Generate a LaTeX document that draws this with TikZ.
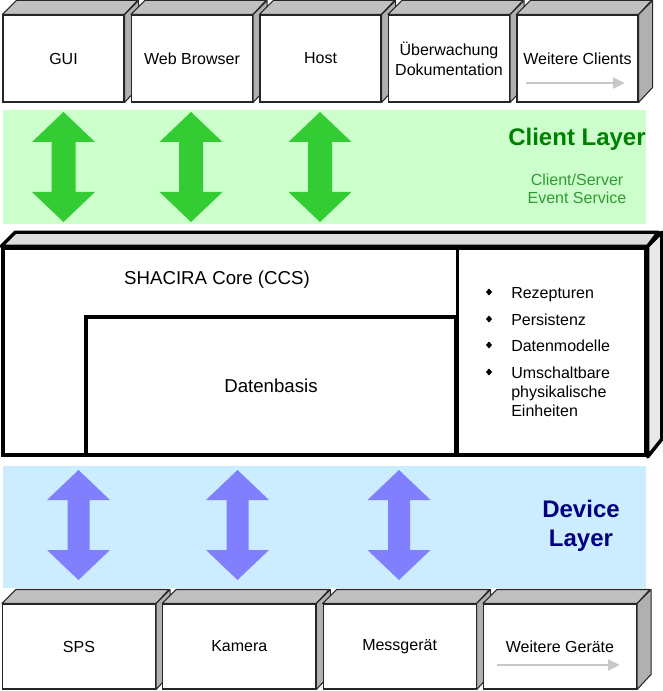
\documentclass[tikz,border=0pt]{standalone}
\usepackage{fontspec}
\setmainfont{Liberation Sans}
\usetikzlibrary{calc,arrows.meta}

\definecolor{bandgreen}{RGB}{204,255,204}
\definecolor{arrowgreen}{RGB}{51,204,51}
\definecolor{titlegreen}{RGB}{0,128,0}
\definecolor{subgreen}{RGB}{51,153,51}
\definecolor{bandblue}{RGB}{204,236,255}
\definecolor{arrowblue}{RGB}{128,128,255}
\definecolor{titleblue}{RGB}{0,0,128}
\definecolor{boxtop}{RGB}{192,192,192}
\definecolor{boxside}{RGB}{176,176,176}
\definecolor{coretop}{RGB}{221,221,221}
\definecolor{coreside}{RGB}{232,232,232}
\definecolor{moregray}{RGB}{200,200,200}

\begin{document}
\begin{tikzpicture}[x=0.75pt,y=0.75pt,yscale=-1,xscale=1,
    frontbox/.style={draw=black!85, line width=0.8pt, fill=white, align=center, inner sep=0pt, font=\fontsize{12}{15}\selectfont},
    clientbox/.style={frontbox, minimum width=90.75pt, minimum height=65.25pt},
    devicebox/.style={frontbox, minimum width=114.75pt, minimum height=63.75pt},
    topface/.style={draw=black!85, line width=0.8pt, fill=boxtop, line join=round},
    sideface/.style={draw=black!85, line width=0.8pt, fill=boxside, line join=round},
    corepart/.style={draw=black, line width=2.6pt, fill=white, inner sep=0pt},
    coreface/.style={draw=black, line width=2.6pt, line join=round},
    listitem/.style={anchor=base west, inner sep=0pt, align=left, font=\fontsize{12}{14.25}\selectfont},
    layertitle/.style={align=center, font=\fontsize{18}{21.75}\selectfont\bfseries},
    morearrow/.style={draw=moregray, line width=2.2pt, -{Triangle[length=9pt,width=8pt]}}
  ]
\useasboundingbox (0,0) rectangle (662,691);

%Layer bands
\fill[bandgreen] (3,110) rectangle (646,224);
\fill[bandblue] (3,466) rectangle (646,588);

%Client boxes
\foreach \n/\x/\t in {gui/63.5/GUI, web/192/Web Browser, host/320.5/Host, ueberw/449/{Überwachung\\Dokumentation}, wclients/577.5/Weitere Clients}{
  \node[clientbox] (\n) at (\x,58.5) {\t};
  \draw[topface] (\n.north west) -- ++(14,-14) -- ++(121,0) -- (\n.north east) -- cycle;
  \draw[sideface] (\n.north east) -- ++(14,-14) -- ++(0,87) -- (\n.south east) -- cycle;
}
\draw[morearrow] ($(wclients.center)+(-51.5,24.5)$) -- ++(99,0);

%Client layer arrows
\foreach \x in {63.5,191,320}
  \fill[arrowgreen] (\x,112) -- (\x+31.5,142) -- (\x+12,142) -- (\x+12,192) -- (\x+31.5,192) -- (\x,222) -- (\x-31.5,192) -- (\x-12,192) -- (\x-12,142) -- (\x-31.5,142) -- cycle;
\node[layertitle, text=titlegreen] (clayer) at (577,139) {Client Layer};
\node[align=center, text=subgreen, font=\fontsize{12}{13.5}\selectfont] (cservice) at (577,189) {Client/Server\\Event Service};

%Core
\node[corepart, minimum width=482.25pt, minimum height=155.25pt] (core) at (324.5,351.5) {};
\draw[coreface, fill=coretop] (core.north west) -- ++(14,-14) -- ++(643,0) -- (core.north east) -- cycle;
\draw[coreface, fill=coreside] (core.north east) -- ++(14,-14) -- ++(0,207) -- (core.south east) -- cycle;
\node[corepart, minimum width=277.5pt, minimum height=103.5pt, font=\fontsize{14}{17}\selectfont] (dbasis) at (271,386) {Datenbasis};
\draw[coreface] (dbasis.north east |- core.north) -- (dbasis.south east);
\node[font=\fontsize{14}{17}\selectfont] (shacira) at (217,280) {SHACIRA Core (CCS)};

%Core features
\node[listitem] (rez) at (511,298) {Rezepturen};
\node[listitem] (pers) at (511,325) {Persistenz};
\node[listitem] (dmod) at (511,351) {Datenmodelle};
\node[listitem] (umsch) at (511,416) {Umschaltbare\\physikalische\\Einheiten};
\foreach \y in {292,319,345,372}
  \fill (486,\y) -- (489,\y-3.5) -- (492,\y) -- (489,\y+3.5) -- cycle;

%Device layer arrows
\foreach \x in {78.5,237.5,399}
  \fill[arrowblue] (\x,470) -- (\x+31.5,500) -- (\x+11,500) -- (\x+11,550) -- (\x+31.5,550) -- (\x,580) -- (\x-31.5,550) -- (\x-11,550) -- (\x-11,500) -- (\x-31.5,500) -- cycle;
\node[layertitle, text=titleblue] (dlayer) at (581,525.5) {Device\\Layer};

%Device boxes
\foreach \n/\x/\t in {sps/79/SPS, kamera/239.3/Kamera, messg/399.6/Messgerät, wgeraete/560/Weitere Geräte}{
  \node[devicebox] (\n) at (\x,646.5) {\t};
  \draw[topface] (\n.north west) -- ++(14,-14) -- ++(153,0) -- (\n.north east) -- cycle;
  \draw[sideface] (\n.north east) -- ++(14,-14) -- ++(0,85) -- (\n.south east) -- cycle;
}
\draw[morearrow] ($(wgeraete.center)+(-63,18.5)$) -- ++(123,0);
\end{tikzpicture}
\end{document}
